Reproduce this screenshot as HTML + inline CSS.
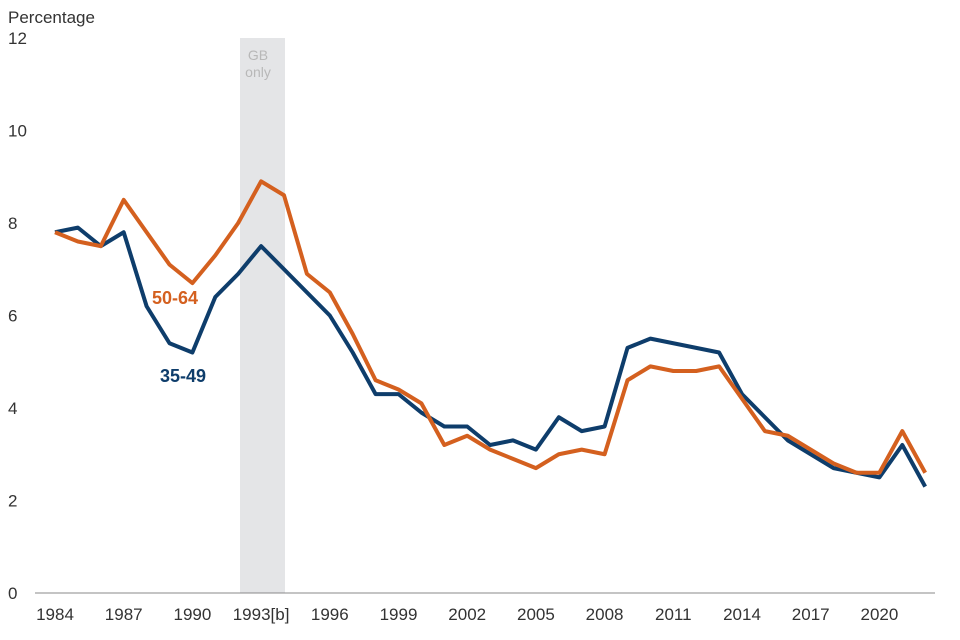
<!DOCTYPE html>
<html><head><meta charset="utf-8"><style>
body{margin:0;background:#fff;}
svg{display:block;font-family:"Liberation Sans",Arial,sans-serif;}
</style></head><body>
<svg id="chart" width="960" height="640">
<rect x="240" y="38" width="45" height="555" fill="#e4e5e7"/>
<text x="258" y="60" fill="#b8b8b8" font-size="14" text-anchor="middle"><tspan x="258">GB</tspan><tspan x="258" dy="17">only</tspan></text>
<text x="8" y="23" font-size="17" fill="#333">Percentage</text>
<g id="yt"></g><g id="xt"></g><g id="lines"></g>
<line x1="35" y1="593" x2="935" y2="593" stroke="#888" stroke-width="1"/>
<text x="152" y="304" font-size="18" font-weight="bold" fill="#d4601f">50-64</text>
<text x="160" y="382" font-size="18" font-weight="bold" fill="#0e3d6b">35-49</text>
</svg>
<script>
const years=[1984,1985,1986,1987,1988,1989,1990,1991,1992,1993,1994,1995,1996,1997,1998,1999,2000,2001,2002,2003,2004,2005,2006,2007,2008,2009,2010,2011,2012,2013,2014,2015,2016,2017,2018,2019,2020,2021,2022];
const age3549=[7.8,7.9,7.5,7.8,6.2,5.4,5.2,6.4,6.9,7.5,7.0,6.5,6.0,5.2,4.3,4.3,3.9,3.6,3.6,3.2,3.3,3.1,3.8,3.5,3.6,5.3,5.5,5.4,5.3,5.2,4.3,3.8,3.3,3.0,2.7,2.6,2.5,3.2,2.3];
const age5064=[7.8,7.6,7.5,8.5,7.8,7.1,6.7,7.3,8.0,8.9,8.6,6.9,6.5,5.6,4.6,4.4,4.1,3.2,3.4,3.1,2.9,2.7,3.0,3.1,3.0,4.6,4.9,4.8,4.8,4.9,4.2,3.5,3.4,3.1,2.8,2.6,2.6,3.5,2.6];
const yTicks=[0,2,4,6,8,10,12];
const xTickLabels=["1984","1987","1990","1993[b]","1996","1999","2002","2005","2008","2011","2014","2017","2020"];
const xTickYears=[1984,1987,1990,1993,1996,1999,2002,2005,2008,2011,2014,2017,2020];
const NS="http://www.w3.org/2000/svg";
const X=y=>55+(y-1984)*22.9;
const Y=v=>593-v*46.25;
const yt=document.getElementById('yt');
yTicks.forEach(v=>{const t=document.createElementNS(NS,'text');
t.setAttribute('x',8);t.setAttribute('y',Y(v)+6);t.setAttribute('font-size','17');t.setAttribute('fill','#333');


t.textContent=v;yt.appendChild(t);});
const xt=document.getElementById('xt');
xTickYears.forEach((yr,i)=>{const t=document.createElementNS(NS,'text');
t.setAttribute('x',X(yr));t.setAttribute('y',620);t.setAttribute('font-size','17');t.setAttribute('fill','#333');t.setAttribute('text-anchor','middle');


t.textContent=xTickLabels[i];xt.appendChild(t);});
const lg=document.getElementById('lines');
[[age3549,'#0e3d6b','line-35-49'],[age5064,'#d4601f','line-50-64']].forEach(([d,c,n])=>{
const p=document.createElementNS(NS,'polyline');
p.setAttribute('points',d.map((v,i)=>X(years[i])+','+Y(v)).join(' '));
p.setAttribute('fill','none');p.setAttribute('stroke',c);p.setAttribute('stroke-width','4');p.setAttribute('stroke-linejoin','round');


lg.appendChild(p);});
</script>
</body></html>
